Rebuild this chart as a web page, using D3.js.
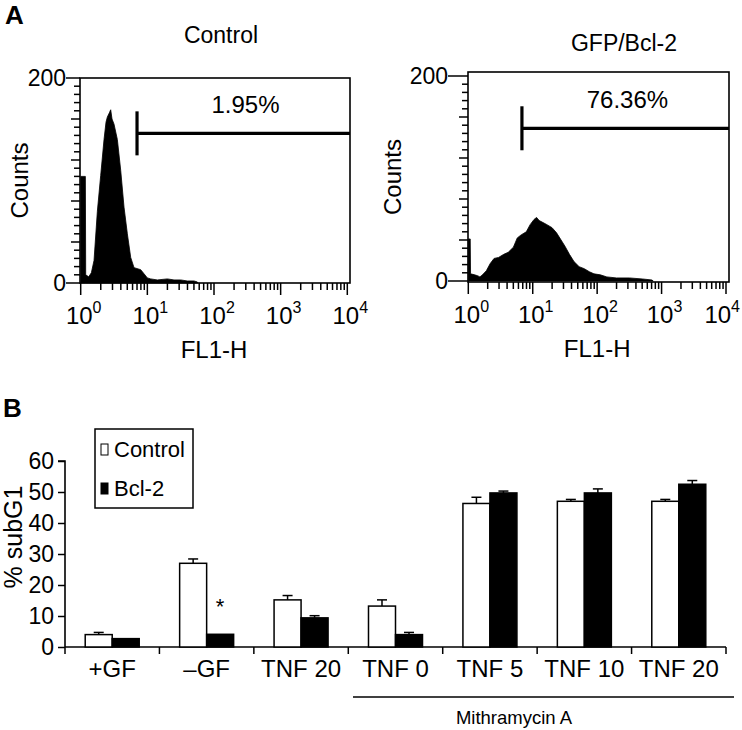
<!DOCTYPE html>
<html><head><meta charset="utf-8">
<script src="https://cdn.jsdelivr.net/npm/d3@7"></script>
<style>
body{margin:0;background:#fff;}
text{font-family:"Liberation Sans",Arial,Helvetica,sans-serif;fill:#000;}
</style></head>
<body><svg id="c" width="742" height="730"></svg>
<script>
// ---------- Panel A data (log10 FL1-H position, counts) ----------
const controlHist = [[0,104],[0.07,104],[0.075,8],[0.12,6],[0.16,10],[0.2,22],[0.25,70],[0.3,105],[0.35,140],[0.38,157],[0.4,162],[0.43,166],[0.45,169],[0.47,160],[0.5,155],[0.55,140],[0.6,110],[0.65,74],[0.7,48],[0.75,25],[0.8,15],[0.9,13],[0.95,9],[1.0,5],[1.05,4],[1.15,3],[1.3,4],[1.4,3],[1.5,3],[1.6,2],[1.7,2],[1.75,1],[1.76,0]];
const bclHist = [[0,41],[0.03,41],[0.035,7],[0.1,6],[0.15,5],[0.18,4],[0.22,6],[0.28,10],[0.34,17],[0.4,22],[0.47,23],[0.55,26],[0.62,28],[0.7,33],[0.76,42],[0.82,45],[0.9,48],[0.96,55],[1.02,60],[1.06,62],[1.1,59],[1.16,57],[1.22,55],[1.3,52],[1.37,47],[1.44,40],[1.5,34],[1.57,26],[1.64,19],[1.72,14],[1.8,12],[1.88,9],[1.95,7],[2.05,6],[2.15,4],[2.3,3],[2.5,3],[2.7,2],[2.85,1],[2.87,0]];
const histTitles = ["Control","GFP/Bcl-2"];
const gateStart = [7.0, 6.8];
const gateLevel = [146, 149];
const gatePct = ["1.95%","76.36%"];
const countTicks = [0,200];
const decadeTicks = [1,10,100,1000,10000];

// ---------- Panel B data ----------
const categories = ["+GF","\u2013GF","TNF 20","TNF 0","TNF 5","TNF 10","TNF 20 "];
const catLabels = ["+GF","\u2013GF","TNF 20","TNF 0","TNF 5","TNF 10","TNF 20"];
const series = ["Control","Bcl-2"];
const controlVals = [4.0,27.0,15.2,13.2,46.3,47.0,47.0];
const controlErr  = [0.7,1.4,1.4,2.0,2.0,0.6,0.6];
const bcl2Vals    = [2.7,4.1,9.4,4.0,49.7,49.7,52.5];
const bcl2Err     = [0,0,0.7,0.7,0.6,1.3,1.2];
const subG1Ticks  = [0,10,20,30,40,50,60];

const svg = d3.select("#c");

// ---------- Panel A ----------
svg.append("text").attr("x",5).attr("y",24).attr("font-size",26).attr("font-weight","bold").text("A");

const panels = [
  {data:controlHist, fx0:80, fx1:350, fy0:78, fy1:283, xr:[80.7,347.3], yr:[283,78], titleX:221, titleY:43, ylabX:28, labGap:14},
  {data:bclHist, fx0:468, fx1:729, fy0:72, fy1:282, xr:[468.3,726], yr:[281,76], titleX:624, titleY:51, ylabX:401, labGap:20}
];

panels.forEach((p,i)=>{
  const g = svg.append("g");
  const x = d3.scaleLog().domain([1,1e4]).range(p.xr);
  const y = d3.scaleLinear().domain([0,200]).range(p.yr);
  // histogram
  const area = d3.area().x(d=>x(Math.pow(10,d[0]))).y0(y(0)).y1(d=>y(d[1])).curve(d3.curveLinear);
  g.append("path").datum(p.data).attr("d",area).attr("fill","#000").attr("stroke","#000").attr("stroke-width",0.8);
  // frame
  g.append("rect").attr("x",p.fx0).attr("y",p.fy0).attr("width",p.fx1-p.fx0).attr("height",p.fy1-p.fy0)
    .attr("fill","none").attr("stroke","#000").attr("stroke-width",1.6);
  // y ticks
  const yt = d3.range(0,201,8);
  g.selectAll(".yt").data(yt).join("line")
    .attr("x1",d=> p.fx0 - (d===0||d===200?p.labGap:(d%40===0?9:6)))
    .attr("x2",p.fx0).attr("y1",d=>y(d)).attr("y2",d=>y(d))
    .attr("stroke","#000").attr("stroke-width",1.5);
  g.selectAll(".yl").data(countTicks).join("text")
    .attr("x",p.fx0-p.labGap).attr("y",d=>y(d)).attr("dy","0.36em").attr("text-anchor","end")
    .attr("font-size",23).text(d=>d);
  // x ticks
  const xt=[];
  for(let e=0;e<4;e++){for(let m=1;m<10;m++){xt.push(m*Math.pow(10,e));}}
  xt.push(1e4);
  g.selectAll(".xt").data(xt).join("line")
    .attr("x1",d=>x(d)).attr("x2",d=>x(d)).attr("y1",p.fy1).attr("y2",d=>p.fy1+(decadeTicks.includes(d)?12:7))
    .attr("stroke","#000").attr("stroke-width",1.5);
  const xl = g.selectAll(".xl").data(decadeTicks).join("text")
    .attr("x",d=>x(d)+3).attr("y",p.fy1+41).attr("text-anchor","middle").attr("font-size",24);
  xl.append("tspan").text("10");
  xl.append("tspan").attr("dy",-11).attr("font-size",16).text(d=>Math.round(Math.log10(d)));
  // keep labels inside the canvas
  xl.each(function(){
    const w=this.getComputedTextLength(); const cx=+d3.select(this).attr("x");
    if(cx+w/2>740) d3.select(this).attr("x",740-w/2);
  });
  // axis titles
  g.append("text").attr("x",(p.xr[0]+p.xr[1])/2).attr("y",p.fy1+75).attr("text-anchor","middle").attr("font-size",24).text("FL1-H");
  g.append("text").attr("transform",`translate(${p.ylabX},${(p.fy0+p.fy1)/2}) rotate(-90)`).attr("text-anchor","middle").attr("font-size",24).text("Counts");
  g.append("text").attr("x",p.titleX).attr("y",p.titleY).attr("text-anchor","middle").attr("font-size",23).text(histTitles[i]);
  // gate
  const gx = x(gateStart[i]), gy = y(gateLevel[i]);
  g.append("line").attr("x1",gx).attr("x2",gx).attr("y1",gy-22).attr("y2",gy+22).attr("stroke","#000").attr("stroke-width",3.2);
  g.append("line").attr("x1",gx).attr("x2",p.fx1).attr("y1",gy).attr("y2",gy).attr("stroke","#000").attr("stroke-width",3.2);
  g.append("text").attr("x",(gx+p.fx1)/2+2).attr("y",gy-20).attr("text-anchor","middle").attr("font-size",24).text(gatePct[i]);
});

// ---------- Panel B ----------
svg.append("text").attr("x",3).attr("y",417).attr("font-size",26).attr("font-weight","bold").text("B");

const x0 = d3.scaleBand().domain(categories).range([65,726]).paddingInner(0).paddingOuter(0);
const bw = x0.bandwidth();
const x1 = d3.scaleBand().domain(series).range([bw/2-27, bw/2+27]).padding(0);
const yB = d3.scaleLinear().domain([0,60]).range([647,461]);

const gB = svg.append("g");
const yAxis = d3.axisLeft(yB).tickValues(subG1Ticks).tickSize(7).tickPadding(4);
gB.append("g").attr("transform","translate(65,0)").call(yAxis)
  .call(s=>{s.select(".domain").attr("stroke-width",1.6).attr("d","M-7,461H0V647");s.selectAll(".tick line").attr("stroke-width",1.5);
    s.selectAll(".tick text").attr("font-size",23).attr("font-family","'Liberation Sans',Arial,sans-serif").attr("fill","#000");});

// x axis line and boundary ticks
gB.append("line").attr("x1",65).attr("x2",726).attr("y1",647).attr("y2",647).attr("stroke","#000").attr("stroke-width",1.6);
const bounds = categories.map(c=>x0(c)).concat([x0(categories[categories.length-1])+bw]);
gB.selectAll(".bt").data(bounds).join("line").attr("x1",d=>d).attr("x2",d=>d).attr("y1",647).attr("y2",654).attr("stroke","#000").attr("stroke-width",1.5);
gB.selectAll(".cl").data(categories).join("text").attr("x",d=>x0(d)+bw/2).attr("y",677).attr("text-anchor","middle").attr("font-size",24)
  .text((d,i)=>catLabels[i]);

// bars
const rows = categories.map((c,i)=>({c, vals:[{s:"Control",v:controlVals[i],e:controlErr[i]},{s:"Bcl-2",v:bcl2Vals[i],e:bcl2Err[i]}]}));
const grp = gB.selectAll(".grp").data(rows).join("g").attr("transform",d=>`translate(${x0(d.c)},0)`);
grp.selectAll(".err").data(d=>d.vals.filter(v=>v.e>0)).join("g").each(function(d){
  const g=d3.select(this), cx=x1(d.s)+x1.bandwidth()/2;
  g.append("line").attr("x1",cx).attr("x2",cx).attr("y1",yB(d.v)).attr("y2",yB(d.v+d.e)).attr("stroke","#000").attr("stroke-width",1.5);
  g.append("line").attr("x1",cx-5).attr("x2",cx+5).attr("y1",yB(d.v+d.e)).attr("y2",yB(d.v+d.e)).attr("stroke","#000").attr("stroke-width",1.5);
});
grp.selectAll("rect").data(d=>d.vals).join("rect")
  .attr("x",d=>x1(d.s)).attr("width",x1.bandwidth()).attr("y",d=>yB(d.v)).attr("height",d=>yB(0)-yB(d.v))
  .attr("fill",d=>d.s==="Control"?"#fff":"#000").attr("stroke","#000").attr("stroke-width",1.5);

// asterisk above -GF Bcl-2
gB.append("text").attr("x",x0(categories[1])+x1("Bcl-2")+x1.bandwidth()/2).attr("y",yB(bcl2Vals[1])-20).attr("text-anchor","middle").attr("font-size",22).text("*");

// y title
gB.append("text").attr("transform","translate(22,537) rotate(-90)").attr("text-anchor","middle").attr("font-size",25).text("% subG1");

// legend
const lg = gB.append("g");
lg.append("rect").attr("x",95).attr("y",429).attr("width",98).attr("height",79).attr("fill","#fff").attr("stroke","#000").attr("stroke-width",1.5);
series.forEach((s,i)=>{
  const yy = 449 + i*39;
  lg.append("rect").attr("x",101).attr("y",yy-5).attr("width",7).attr("height",11)
    .attr("fill",i===0?"#fff":"#000").attr("stroke","#000").attr("stroke-width",1);
  lg.append("text").attr("x",114).attr("y",yy).attr("dy","0.36em").attr("font-size",22).text(s);
});

// Mithramycin A bracket
gB.append("line").attr("x1",353).attr("x2",734).attr("y1",697).attr("y2",697).attr("stroke","#000").attr("stroke-width",1.5);
gB.append("text").attr("x",514).attr("y",717).attr("dy","0.36em").attr("text-anchor","middle").attr("font-size",18.5).text("Mithramycin A");
</script></body></html>
